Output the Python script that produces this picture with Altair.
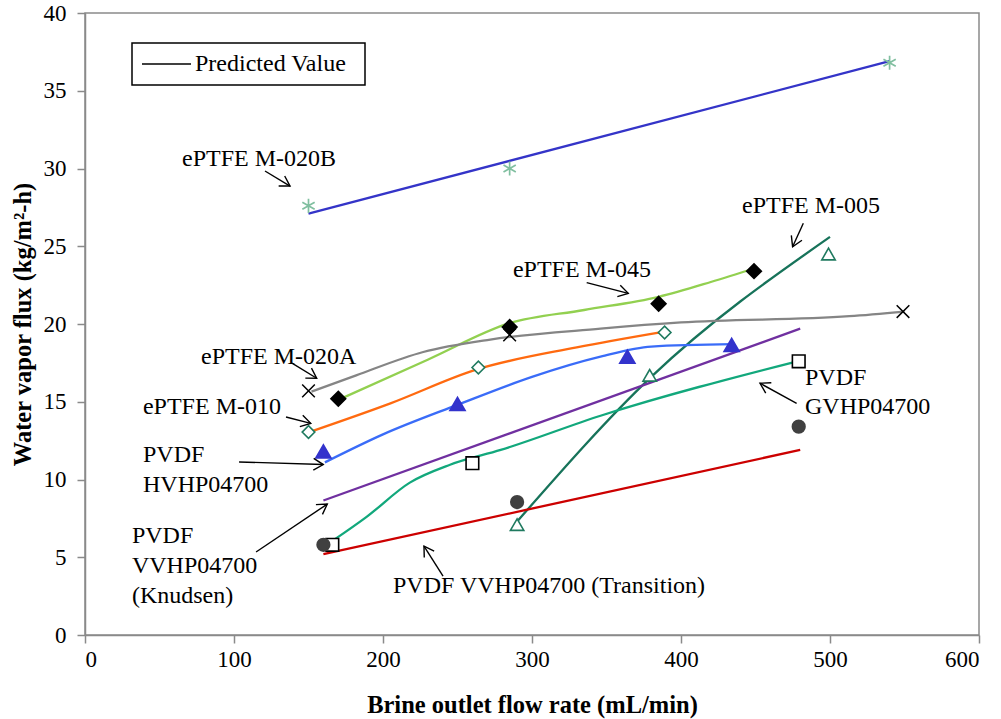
import math
import altair as alt
import pandas as pd

FONT = "Liberation Serif"

# ---------------- predicted-value curves ----------------
series_names = [
    "ePTFE M-020B", "ePTFE M-005", "ePTFE M-045", "ePTFE M-020A", "ePTFE M-010",
    "PVDF HVHP04700", "PVDF GVHP04700", "PVDF VVHP04700 (Knudsen)", "PVDF VVHP04700 (Transition)",
]
series_colors = ["#3434C8", "#17735A", "#92D050", "#858585", "#FF6A10",
                 "#3A6CF8", "#12A87C", "#7030A0", "#CC0000"]

pred_x = {
    "ePTFE M-020B": [150, 540],
    "ePTFE M-005": [290, 380, 500],
    "ePTFE M-045": [173, 230, 285, 335, 385, 420, 450],
    "ePTFE M-020A": [152, 182, 227, 272, 346, 400, 513, 550],
    "ePTFE M-010": [152, 205, 262, 330, 388],
    "PVDF HVHP04700": [161, 200, 250, 300, 346, 380, 435],
    "PVDF GVHP04700": [166, 189, 218, 245, 279, 346, 478],
    "PVDF VVHP04700 (Knudsen)": [160, 480],
    "PVDF VVHP04700 (Transition)": [160, 480],
}
pred_y = {
    "ePTFE M-020B": [27.1, 36.9],
    "ePTFE M-005": [7.3, 16.6, 25.6],
    "ePTFE M-045": [15.25, 17.7, 20.05, 20.9, 21.75, 22.7, 23.6],
    "ePTFE M-020A": [15.65, 16.7, 18.2, 19.0, 19.7, 20.1, 20.5, 20.8],
    "ePTFE M-010": [13.1, 14.9, 17.05, 18.5, 19.5],
    "PVDF HVHP04700": [11.1, 12.9, 14.8, 16.6, 17.9, 18.55, 18.7],
    "PVDF GVHP04700": [6.05, 7.6, 9.8, 10.95, 11.9, 14.1, 17.6],
    "PVDF VVHP04700 (Knudsen)": [8.65, 19.7],
    "PVDF VVHP04700 (Transition)": [5.2, 11.9],
}

# ---------------- measured points ----------------
m020b_x = [150, 285, 540]; m020b_y = [27.6, 30.0, 36.8]
m005_x = [290, 379, 499]; m005_y = [7.1, 16.7, 24.5]
m045_x = [170, 285, 385, 449]; m045_y = [15.2, 19.8, 21.3, 23.4]
m020a_x = [150, 285, 549]; m020a_y = [15.7, 19.3, 20.8]
m010_x = [150, 264, 389]; m010_y = [13.05, 17.2, 19.45]
hvhp_x = [160, 250, 364, 434]; hvhp_y = [11.8, 14.85, 17.9, 18.65]
gvhp_x = [166, 260, 479]; gvhp_y = [5.8, 11.05, 17.6]
vvhp_x = [160, 290, 479]; vvhp_y = [5.8, 8.55, 13.4]

# ---------------- annotations ----------------
label_text = ["ePTFE M-020B", "ePTFE M-005", "ePTFE M-045", "ePTFE M-020A", "ePTFE M-010",
              "PVDF", "HVHP04700", "PVDF", "VVHP04700", "(Knudsen)",
              "PVDF VVHP04700  (Transition)", "PVDF", "GVHP04700"]
label_x = [65.1, 441.0, 287.2, 77.9, 38.9, 38.9, 38.9, 31.5, 31.5, 31.5, 206.7, 483.2, 483.2]
label_y = [30.6, 27.6, 23.5, 17.9, 14.66, 11.58, 9.65, 6.37, 4.44, 2.51, 3.15, 16.53, 14.66]

arrow_x1 = [120.8, 482.1, 336.7, 138.9, 134.9, 103.4, 114.8, 240.3, 477.6]
arrow_y1 = [29.84, 26.48, 22.66, 17.49, 14.02, 11.13, 5.34, 3.79, 14.9]
arrow_x2 = [137.6, 474.9, 364.6, 155.5, 151.5, 159.9, 162.6, 227.5, 453.0]
arrow_y2 = [28.87, 24.97, 21.97, 16.51, 13.61, 10.96, 8.42, 5.72, 16.19]

# ---------------- chart geometry ----------------
W, H = 894, 622
X_MAX, Y_MAX = 600, 40
x_scale = alt.Scale(domain=[0, X_MAX], nice=False, zero=True)
y_scale = alt.Scale(domain=[0, Y_MAX], nice=False, zero=True)

rows = []
for s in series_names:
    for i, (xv, yv) in enumerate(zip(pred_x[s], pred_y[s])):
        rows.append({"series": s, "x": xv, "y": yv, "order": i})
pred_df = pd.DataFrame(rows)

X = alt.X("x:Q", scale=x_scale, axis=alt.Axis(
    values=list(range(0, 601, 100)), title="Brine outlet flow rate (mL/min)", grid=False,
    tickSize=8, labelPadding=5, titleY=77, titleBaseline="alphabetic"))
Y = alt.Y("y:Q", scale=y_scale, axis=alt.Axis(
    values=list(range(0, 41, 5)), title="Water vapor flux (kg/m²-h)", grid=False,
    tickSize=8, labelPadding=11, titleX=-62, titleBaseline="middle"))

lines = alt.Chart(pred_df).mark_line(strokeWidth=2.3, interpolate="monotone").encode(
    x=X, y=Y,
    color=alt.Color("series:N", scale=alt.Scale(domain=series_names, range=series_colors), legend=None),
    detail="series:N", order="order:Q",
)


def pts(xs, ys, **mark):
    df = pd.DataFrame({"x": xs, "y": ys})
    return alt.Chart(df).mark_point(**mark).encode(
        x=alt.X("x:Q", scale=x_scale), y=alt.Y("y:Q", scale=y_scale))


ASTER = "M0,-1L0,1M-0.87,-0.5L0.87,0.5M-0.87,0.5L0.87,-0.5"
XSHAPE = "M-1,-1L1,1M-1,1L1,-1"

markers = [
    pts(m020b_x, m020b_y, shape=ASTER, filled=False, stroke="#80BFA0", strokeWidth=1.7, size=200, opacity=1),
    pts(m005_x, m005_y, shape="triangle-up", filled=True, fill="white", stroke="#1F7A5F", strokeWidth=1.6, size=180, opacity=1),
    pts(m045_x, m045_y, shape="diamond", filled=True, fill="black", stroke="black", size=200, opacity=1),
    pts(m020a_x, m020a_y, shape=XSHAPE, filled=False, stroke="black", strokeWidth=1.5, size=160, opacity=1),
    pts(m010_x, m010_y, shape="diamond", filled=True, fill="white", stroke="#1F7A5F", strokeWidth=1.6, size=160, opacity=1),
    pts(hvhp_x, hvhp_y, shape="triangle-up", filled=True, fill="#3333CC", stroke="#3333CC", size=210, opacity=1),
    pts(gvhp_x, gvhp_y, shape="square", filled=True, fill="white", stroke="black", strokeWidth=1.6, size=160, opacity=1),
    pts(vvhp_x, vvhp_y, shape="circle", filled=True, fill="#404040", stroke="#404040", size=150, opacity=1),
]

lab_df = pd.DataFrame({"x": label_x, "y": label_y, "t": label_text})
labels = alt.Chart(lab_df).mark_text(align="left", baseline="middle", font=FONT, fontSize=24, color="black").encode(
    x=alt.X("x:Q", scale=x_scale), y=alt.Y("y:Q", scale=y_scale), text="t:N")

px_per_x = W / X_MAX
px_per_y = H / Y_MAX
angles = []
for a, b, c, d in zip(arrow_x1, arrow_y1, arrow_x2, arrow_y2):
    dx = (c - a) * px_per_x
    dy = -(d - b) * px_per_y
    angles.append(math.degrees(math.atan2(dy, dx)) % 360)
arr_df = pd.DataFrame({"x1": arrow_x1, "y1": arrow_y1, "x2": arrow_x2, "y2": arrow_y2, "ang": angles})

shafts = alt.Chart(arr_df).mark_rule(color="black", strokeWidth=1.4).encode(
    x=alt.X("x1:Q", scale=x_scale), y=alt.Y("y1:Q", scale=y_scale), x2="x2:Q", y2="y2:Q")
heads = alt.Chart(arr_df).mark_point(shape="M-1,-0.6L0,0L-1,0.6", filled=False, stroke="black",
                                     strokeWidth=1.4, size=380, opacity=1).encode(
    x=alt.X("x2:Q", scale=x_scale), y=alt.Y("y2:Q", scale=y_scale), angle=alt.Angle("ang:Q", scale=None))

one = pd.DataFrame({"k": [0]})
legend_box = alt.Chart(one).mark_rect(fill="white", stroke="black", strokeWidth=1.5).encode(
    x=alt.value(47), x2=alt.value(280), y=alt.value(30), y2=alt.value(72))
legend_line = alt.Chart(one).mark_rule(color="black", strokeWidth=1.3).encode(
    x=alt.value(57), x2=alt.value(106), y=alt.value(51))
legend_text = alt.Chart(one).mark_text(align="left", baseline="middle", font=FONT, fontSize=24, color="black").encode(
    x=alt.value(110), y=alt.value(51), text=alt.value("Predicted  Value"))

chart = alt.layer(lines, *markers, shafts, heads, labels, legend_box, legend_line, legend_text).properties(
    width=W, height=H,
    autosize=alt.AutoSizeParams(type="none"),
    padding={"left": 85, "top": 13, "right": 22, "bottom": 84},
    background="white",
).configure_view(stroke="#8A8A8A", strokeWidth=1.5).configure_axis(
    labelFont=FONT, labelFontSize=23, labelColor="black",
    titleFont=FONT, titleFontSize=24.5, titleFontWeight="bold", titleColor="black",
    domainColor="#8A8A8A", domainWidth=1.5, tickColor="#8A8A8A", tickWidth=1.5,
)

chart.save("out.html", embed_options={"renderer": "svg", "actions": False})
